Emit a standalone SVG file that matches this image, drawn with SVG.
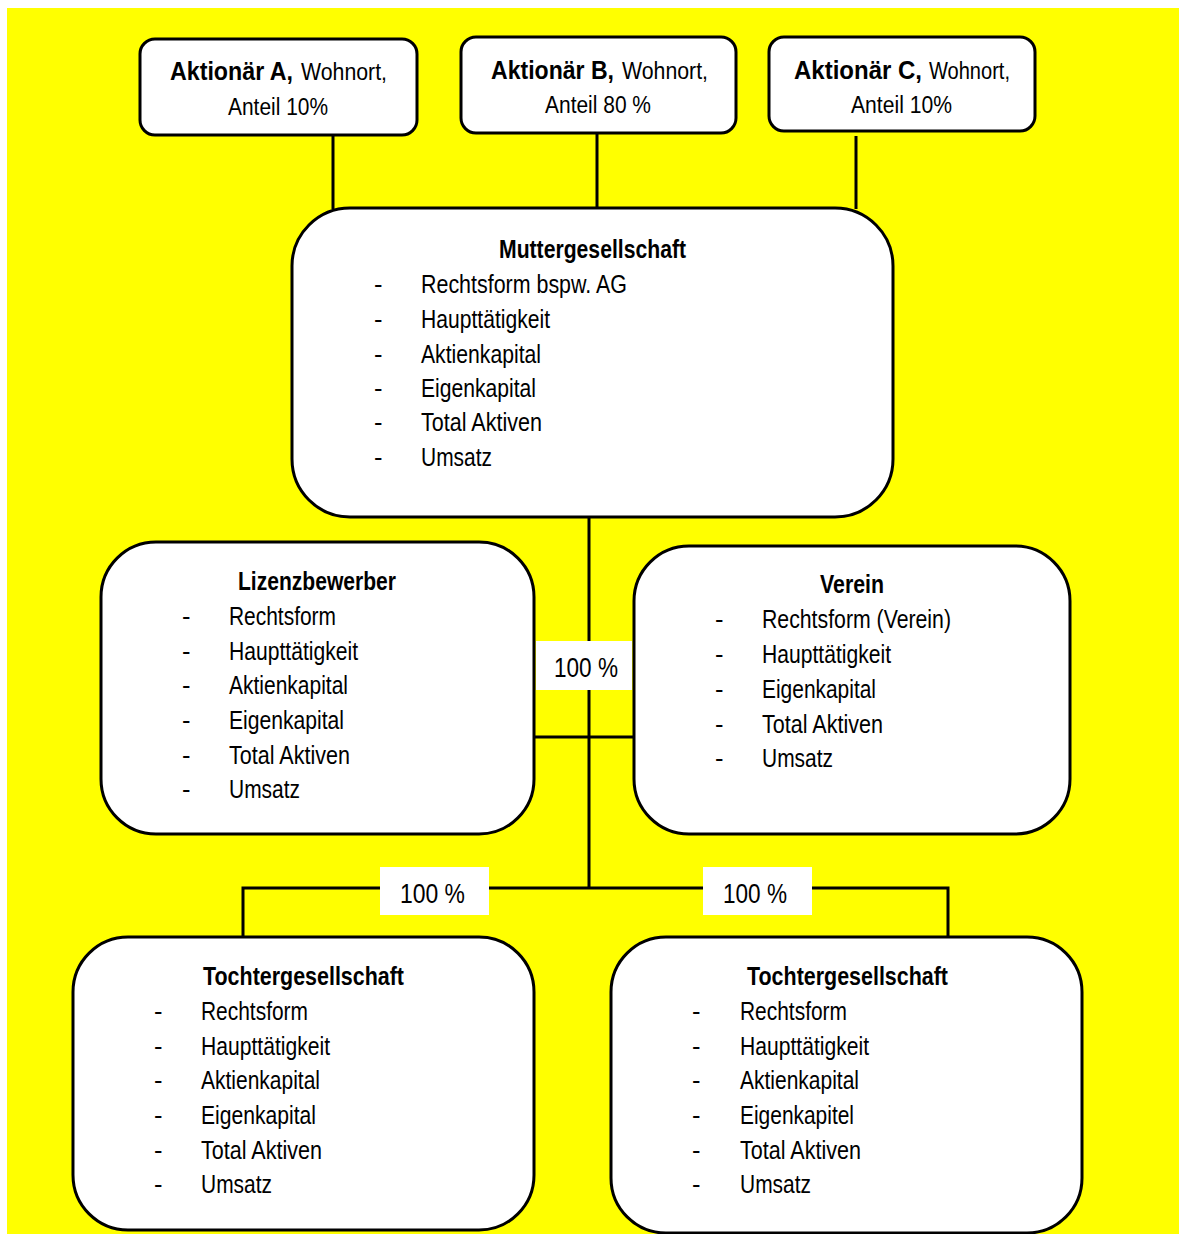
<svg xmlns="http://www.w3.org/2000/svg" width="1179" height="1234" viewBox="0 0 1179 1234">
<style>
.box{fill:#fff;stroke:#000;stroke-width:3}
.ln{stroke:#000;stroke-width:3;fill:none}
text{font-family:"Liberation Sans Narrow","Liberation Sans",Arial,sans-serif;fill:#000}
.t{font-size:25px;font-weight:bold}
.i{font-size:25.5px}
.hb{font-size:26px;font-weight:bold}
.hr{font-size:23px}
.lb{font-size:27px}
.lbl{fill:#fff}
</style>
<rect x="0" y="0" width="1179" height="1234" fill="#fff"/>
<rect x="7" y="8" width="1172" height="1226" fill="#ffff00"/>
<g id="connectors">
<line class="ln" x1="333" y1="135" x2="333" y2="209"/>
<line class="ln" x1="597" y1="133" x2="597" y2="209"/>
<line class="ln" x1="856" y1="136" x2="856" y2="209"/>
<line class="ln" x1="589" y1="517" x2="589" y2="889"/>
<line class="ln" x1="534" y1="737" x2="634" y2="737"/>
<polyline class="ln" points="243,938 243,888 948,888 948,938"/>
<rect class="lbl" x="536" y="641" width="96" height="49"/>
<text class="lb" x="554" y="677" textLength="64" lengthAdjust="spacingAndGlyphs">100 %</text>
<rect class="lbl" x="380" y="867" width="109" height="48"/>
<text class="lb" x="400" y="903" textLength="65" lengthAdjust="spacingAndGlyphs">100 %</text>
<rect class="lbl" x="703" y="867" width="109" height="48"/>
<text class="lb" x="723" y="903" textLength="64" lengthAdjust="spacingAndGlyphs">100 %</text>
</g>
<g id="aktionaer-a">
<rect class="box" x="140" y="39" width="277" height="96" rx="15"/>
<text class="hb" x="170" y="80" textLength="123" lengthAdjust="spacingAndGlyphs">Aktionär A,</text>
<text class="hr" x="301" y="80" textLength="86" lengthAdjust="spacingAndGlyphs">Wohnort,</text>
<text class="hr" x="228" y="115" textLength="100" lengthAdjust="spacingAndGlyphs">Anteil 10%</text>
</g>
<g id="aktionaer-b">
<rect class="box" x="461" y="37" width="275" height="96" rx="15"/>
<text class="hb" x="491" y="79" textLength="123" lengthAdjust="spacingAndGlyphs">Aktionär B,</text>
<text class="hr" x="622" y="79" textLength="86" lengthAdjust="spacingAndGlyphs">Wohnort,</text>
<text class="hr" x="545" y="113" textLength="106" lengthAdjust="spacingAndGlyphs">Anteil 80 %</text>
</g>
<g id="aktionaer-c">
<rect class="box" x="769" y="37" width="266" height="94" rx="15"/>
<text class="hb" x="794" y="79" textLength="128" lengthAdjust="spacingAndGlyphs">Aktionär C,</text>
<text class="hr" x="929" y="79" textLength="81" lengthAdjust="spacingAndGlyphs">Wohnort,</text>
<text class="hr" x="851" y="113" textLength="101" lengthAdjust="spacingAndGlyphs">Anteil 10%</text>
</g>
<g id="muttergesellschaft">
<rect class="box" x="292" y="208" width="601" height="309" rx="58"/>
<text class="t" x="499" y="258" textLength="187" lengthAdjust="spacingAndGlyphs">Muttergesellschaft</text>
<text class="i" x="374" y="293">-</text><text class="i" x="421" y="293" textLength="206" lengthAdjust="spacingAndGlyphs">Rechtsform bspw. AG</text>
<text class="i" x="374" y="328">-</text><text class="i" x="421" y="328" textLength="129" lengthAdjust="spacingAndGlyphs">Haupttätigkeit</text>
<text class="i" x="374" y="363">-</text><text class="i" x="421" y="363" textLength="120" lengthAdjust="spacingAndGlyphs">Aktienkapital</text>
<text class="i" x="374" y="397">-</text><text class="i" x="421" y="397" textLength="115" lengthAdjust="spacingAndGlyphs">Eigenkapital</text>
<text class="i" x="374" y="431">-</text><text class="i" x="421" y="431" textLength="121" lengthAdjust="spacingAndGlyphs">Total Aktiven</text>
<text class="i" x="374" y="466">-</text><text class="i" x="421" y="466" textLength="71" lengthAdjust="spacingAndGlyphs">Umsatz</text>
</g>
<g id="lizenzbewerber">
<rect class="box" x="101" y="542" width="433" height="292" rx="55"/>
<text class="t" x="238" y="590" textLength="158" lengthAdjust="spacingAndGlyphs">Lizenzbewerber</text>
<text class="i" x="182" y="625">-</text><text class="i" x="229" y="625" textLength="107" lengthAdjust="spacingAndGlyphs">Rechtsform</text>
<text class="i" x="182" y="660">-</text><text class="i" x="229" y="660" textLength="129" lengthAdjust="spacingAndGlyphs">Haupttätigkeit</text>
<text class="i" x="182" y="694">-</text><text class="i" x="229" y="694" textLength="119" lengthAdjust="spacingAndGlyphs">Aktienkapital</text>
<text class="i" x="182" y="729">-</text><text class="i" x="229" y="729" textLength="115" lengthAdjust="spacingAndGlyphs">Eigenkapital</text>
<text class="i" x="182" y="764">-</text><text class="i" x="229" y="764" textLength="121" lengthAdjust="spacingAndGlyphs">Total Aktiven</text>
<text class="i" x="182" y="798">-</text><text class="i" x="229" y="798" textLength="71" lengthAdjust="spacingAndGlyphs">Umsatz</text>
</g>
<g id="verein">
<rect class="box" x="634" y="546" width="436" height="288" rx="55"/>
<text class="t" x="820" y="593" textLength="64" lengthAdjust="spacingAndGlyphs">Verein</text>
<text class="i" x="715" y="628">-</text><text class="i" x="762" y="628" textLength="189" lengthAdjust="spacingAndGlyphs">Rechtsform (Verein)</text>
<text class="i" x="715" y="663">-</text><text class="i" x="762" y="663" textLength="129" lengthAdjust="spacingAndGlyphs">Haupttätigkeit</text>
<text class="i" x="715" y="698">-</text><text class="i" x="762" y="698" textLength="114" lengthAdjust="spacingAndGlyphs">Eigenkapital</text>
<text class="i" x="715" y="733">-</text><text class="i" x="762" y="733" textLength="121" lengthAdjust="spacingAndGlyphs">Total Aktiven</text>
<text class="i" x="715" y="767">-</text><text class="i" x="762" y="767" textLength="71" lengthAdjust="spacingAndGlyphs">Umsatz</text>
</g>
<g id="tochter-links">
<rect class="box" x="73" y="937" width="461" height="293" rx="55"/>
<text class="t" x="203" y="985" textLength="201" lengthAdjust="spacingAndGlyphs">Tochtergesellschaft</text>
<text class="i" x="154" y="1020">-</text><text class="i" x="201" y="1020" textLength="107" lengthAdjust="spacingAndGlyphs">Rechtsform</text>
<text class="i" x="154" y="1055">-</text><text class="i" x="201" y="1055" textLength="129" lengthAdjust="spacingAndGlyphs">Haupttätigkeit</text>
<text class="i" x="154" y="1089">-</text><text class="i" x="201" y="1089" textLength="119" lengthAdjust="spacingAndGlyphs">Aktienkapital</text>
<text class="i" x="154" y="1124">-</text><text class="i" x="201" y="1124" textLength="115" lengthAdjust="spacingAndGlyphs">Eigenkapital</text>
<text class="i" x="154" y="1159">-</text><text class="i" x="201" y="1159" textLength="121" lengthAdjust="spacingAndGlyphs">Total Aktiven</text>
<text class="i" x="154" y="1193">-</text><text class="i" x="201" y="1193" textLength="71" lengthAdjust="spacingAndGlyphs">Umsatz</text>
</g>
<g id="tochter-rechts">
<rect class="box" x="611" y="937" width="471" height="296" rx="55"/>
<text class="t" x="747" y="985" textLength="201" lengthAdjust="spacingAndGlyphs">Tochtergesellschaft</text>
<text class="i" x="692" y="1020">-</text><text class="i" x="740" y="1020" textLength="107" lengthAdjust="spacingAndGlyphs">Rechtsform</text>
<text class="i" x="692" y="1055">-</text><text class="i" x="740" y="1055" textLength="129" lengthAdjust="spacingAndGlyphs">Haupttätigkeit</text>
<text class="i" x="692" y="1089">-</text><text class="i" x="740" y="1089" textLength="119" lengthAdjust="spacingAndGlyphs">Aktienkapital</text>
<text class="i" x="692" y="1124">-</text><text class="i" x="740" y="1124" textLength="114" lengthAdjust="spacingAndGlyphs">Eigenkapitel</text>
<text class="i" x="692" y="1159">-</text><text class="i" x="740" y="1159" textLength="121" lengthAdjust="spacingAndGlyphs">Total Aktiven</text>
<text class="i" x="692" y="1193">-</text><text class="i" x="740" y="1193" textLength="71" lengthAdjust="spacingAndGlyphs">Umsatz</text>
</g>
</svg>
